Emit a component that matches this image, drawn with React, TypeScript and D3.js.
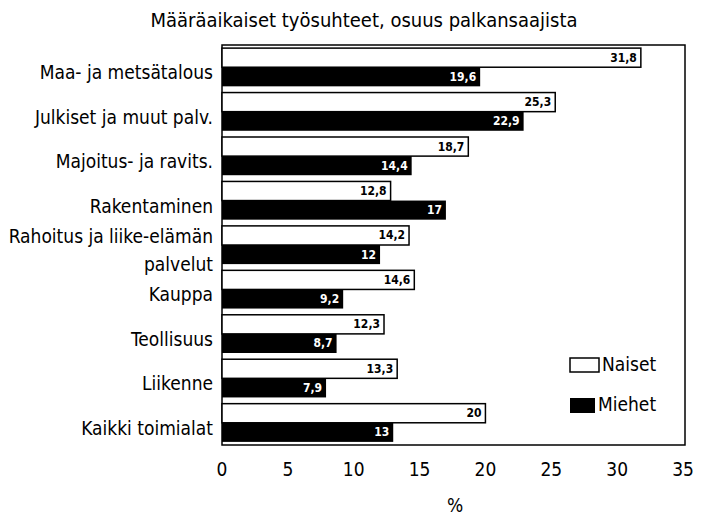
import React from "react";
import * as d3 from "d3";

const categories = [
  "Maa- ja metsätalous",
  "Julkiset ja muut palv.",
  "Majoitus- ja ravits.",
  "Rakentaminen",
  "Rahoitus ja liike-elämän|palvelut",
  "Kauppa",
  "Teollisuus",
  "Liikenne",
  "Kaikki toimialat",
];
const naiset = [31.8, 25.3, 18.7, 12.8, 14.2, 14.6, 12.3, 13.3, 20];
const miehet = [19.6, 22.9, 14.4, 17, 12, 9.2, 8.7, 7.9, 13];
const naisetLabels = ["31,8", "25,3", "18,7", "12,8", "14,2", "14,6", "12,3", "13,3", "20"];
const miehetLabels = ["19,6", "22,9", "14,4", "17", "12", "9,2", "8,7", "7,9", "13"];
const xTicks = [0, 5, 10, 15, 20, 25, 30, 35];
const title = "Määräaikaiset työsuhteet, osuus palkansaajista";
const xTitle = "%";
const seriesNames = ["Naiset", "Miehet"];

const FONT = "'Liberation Sans Narrow', 'DejaVu Sans Condensed', 'Roboto Condensed', sans-serif";

export default function App() {
  const W = 710, H = 516;
  const left = 222, right = 685, top = 45, bottom = 445;
  const x = d3.scaleLinear().domain([0, 35]).range([left, 683]);
  const y = d3.scaleBand().domain(categories).range([top, bottom]).paddingInner(0.14).paddingOuter(0.07);
  const bh = y.bandwidth() / 2;

  return (
    <svg width={W} height={H} style={{ position: "absolute", left: 0, top: 0, background: "#fff" }} fontFamily={FONT}>
      <text x={364} y={27} fontSize={20} textAnchor="middle" fill="#000">{title}</text>
      <rect x={left} y={top} width={right - left} height={bottom - top} fill="none" stroke="#000" strokeWidth={1.5} />
      {categories.map((c, i) => {
        const y0 = y(c)!;
        const parts = c.split("|");
        const cy = y0 + y.bandwidth() / 2 + 6;
        return (
          <g key={c}>
            <rect x={x(0)} y={y0} width={x(naiset[i]) - x(0)} height={bh} fill="#fff" stroke="#000" strokeWidth={1.5} />
            <rect x={x(0)} y={y0 + bh} width={x(miehet[i]) - x(0)} height={bh} fill="#000" />
            <text x={x(naiset[i]) - 4} y={y0 + bh / 2 + 4} fontSize={12} fontWeight="bold" textAnchor="end" fill="#000">{naisetLabels[i]}</text>
            <text x={x(miehet[i]) - 4} y={y0 + bh * 1.5 + 4} fontSize={12} fontWeight="bold" textAnchor="end" fill="#fff">{miehetLabels[i]}</text>
            {parts.length === 1 ? (
              <text x={213} y={cy + 6} fontSize={19} textAnchor="end" fill="#000">{c}</text>
            ) : (
              <>
                <text x={213} y={cy - 8} fontSize={19} textAnchor="end" fill="#000">{parts[0]}</text>
                <text x={213} y={cy + 20} fontSize={19} textAnchor="end" fill="#000">{parts[1]}</text>
              </>
            )}
          </g>
        );
      })}
      {xTicks.map((t) => (
        <text key={t} x={x(t)} y={476} fontSize={19} textAnchor="middle" fill="#000">{t}</text>
      ))}
      <text x={455} y={512} fontSize={19} textAnchor="middle" fill="#000">{xTitle}</text>
      <rect x={570} y={358} width={29} height={14} fill="#fff" stroke="#000" strokeWidth={1.5} />
      <text x={602} y={371} fontSize={19} fill="#000">{seriesNames[0]}</text>
      <rect x={570} y={398} width={25} height={15} fill="#000" />
      <text x={598} y={411} fontSize={19} fill="#000">{seriesNames[1]}</text>
    </svg>
  );
}
